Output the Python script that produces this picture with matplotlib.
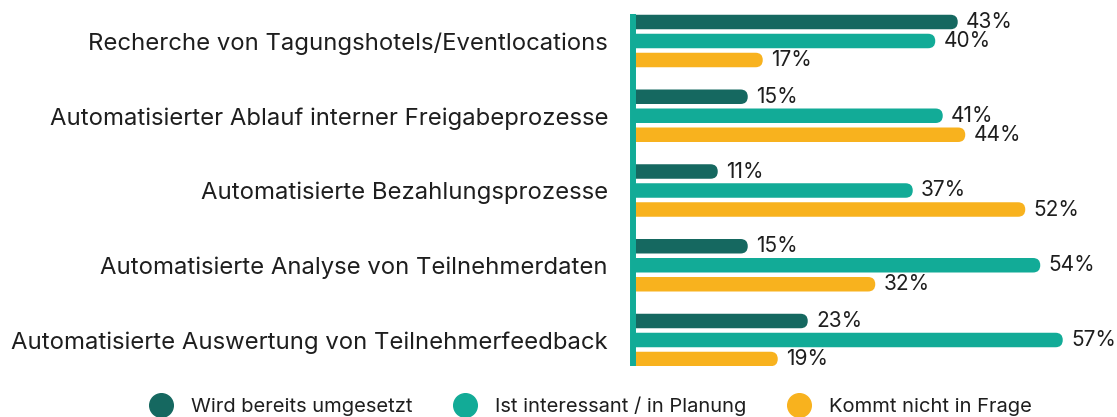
import matplotlib
matplotlib.use("Agg")
import matplotlib.pyplot as plt
from matplotlib.patches import FancyBboxPatch
from matplotlib.lines import Line2D

plt.rcParams['font.family'] = ['Inter', 'DejaVu Sans']

categories = [
    "Recherche von Tagungshotels/Eventlocations",
    "Automatisierter Ablauf interner Freigabeprozesse",
    "Automatisierte Bezahlungsprozesse",
    "Automatisierte Analyse von Teilnehmerdaten",
    "Automatisierte Auswertung von Teilnehmerfeedback",
]
series_names = ["Wird bereits umgesetzt", "Ist interessant / in Planung", "Kommt nicht in Frage"]
wird = [43, 15, 11, 15, 23]
interessant = [40, 41, 37, 54, 57]
kommt_nicht = [17, 44, 52, 32, 19]
series_values = [wird, interessant, kommt_nicht]
colors = ["#156860", "#12ab97", "#f8b21e"]
text_color = "#1e1e1e"

W, H = 1117, 417
fig = plt.figure(figsize=(W / 100, H / 100), dpi=100)
x0_px, top_px, bot_px = 633, 14, 366
ax = fig.add_axes([x0_px / W, (H - bot_px) / H, (W - x0_px) / W, (bot_px - top_px) / H])
px_per_pct = 7.5
pitch_px = 74.75
xmax = (W - x0_px) / px_per_pct
ax.set_xlim(0, xmax)
ytop = -(41 - top_px) / pitch_px
ybot = 4 + (bot_px - 340) / pitch_px
ax.set_ylim(ybot, ytop)

bar_h = 14.5 / pitch_px
offsets = [-19 / pitch_px, 0, 19 / pitch_px]
r = bar_h / 2 * pitch_px / px_per_pct  # radius in x units
aspect = px_per_pct / pitch_px

for vals, off, col in zip(series_values, offsets, colors):
    for i, v in enumerate(vals):
        y = i + off
        p = FancyBboxPatch((-2, y - bar_h / 2), v + 2.3, bar_h,
                           boxstyle=f"round,pad=0,rounding_size={r}",
                           mutation_aspect=aspect, fc=col, ec="none", zorder=2)
        ax.add_patch(p)
        ax.annotate(f"{v}%", (v + 0.3, y), xytext=(6, 0), textcoords="offset points",
                    ha="left", va="center", fontsize=15, color=text_color,
                    annotation_clip=False)

for s in ["top", "right", "bottom"]:
    ax.spines[s].set_visible(False)
ax.spines["left"].set_color("#12ab97")
ax.spines["left"].set_linewidth(4.3)
ax.spines["left"].set_capstyle("butt")
ax.spines["left"].set_zorder(3)
ax.set_xticks([])
ax.set_yticks(range(len(categories)))
ax.set_yticklabels(categories, fontsize=17.2, color=text_color)
ax.tick_params(axis="y", length=0, pad=18)

handles = [Line2D([], [], marker="o", ls="none", markersize=17, markerfacecolor=c,
                  markeredgecolor=c) for c in colors]
fig.legend(handles, series_names, loc="center", bbox_to_anchor=(586 / W, (H - 406) / H),
           ncol=3, frameon=False, fontsize=14.5, handletextpad=0.5, columnspacing=1.6,
           labelcolor=text_color)

fig.savefig("out.png", dpi=100)
